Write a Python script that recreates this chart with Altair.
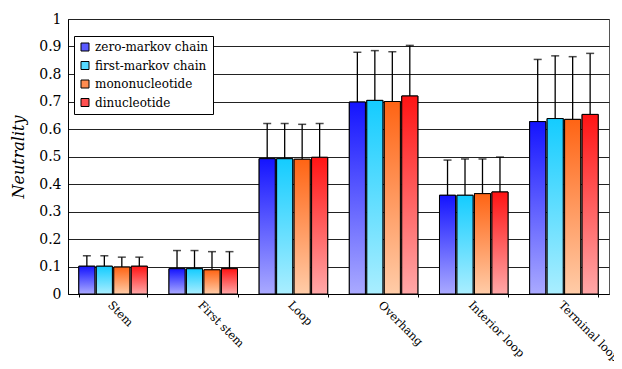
import altair as alt
import pandas as pd

categories = ["Stem", "First stem", "Loop", "Overhang", "Interior loop", "Terminal loop"]
series = ["zero-markov chain", "first-markov chain", "mononucleotide", "dinucleotide"]

zero_markov = [0.101, 0.092, 0.492, 0.698, 0.359, 0.627]
first_markov = [0.101, 0.092, 0.492, 0.704, 0.359, 0.638]
mononucleotide = [0.098, 0.088, 0.490, 0.700, 0.365, 0.635]
dinucleotide = [0.101, 0.092, 0.497, 0.720, 0.371, 0.653]

zero_markov_err = [0.139, 0.158, 0.620, 0.879, 0.487, 0.853]
first_markov_err = [0.139, 0.158, 0.620, 0.885, 0.491, 0.866]
mononucleotide_err = [0.134, 0.154, 0.617, 0.881, 0.491, 0.863]
dinucleotide_err = [0.134, 0.154, 0.620, 0.904, 0.498, 0.875]

y_ticks = [0, 0.1, 0.2, 0.3, 0.4, 0.5, 0.6, 0.7, 0.8, 0.9, 1]

top_colors = ["#1414ff", "#14ccff", "#ff6414", "#ff1414"]
bottom_colors = ["#aaaaff", "#aaeeff", "#ffcca8", "#ffa8a8"]
mid_colors = ["#5a5aff", "#55d8ff", "#ff8c50", "#ff5050"]

values = [zero_markov, first_markov, mononucleotide, dinucleotide]
errs = [zero_markov_err, first_markov_err, mononucleotide_err, dinucleotide_err]

rows = []
for s, vals, es in zip(series, values, errs):
    for c, v, e in zip(categories, vals, es):
        rows.append({"category": c, "series": s, "value": v, "err": e})
df = pd.DataFrame(rows)

font = "DejaVu Serif"

x_enc = alt.X("category:N", scale=alt.Scale(domain=categories, paddingInner=0.24, paddingOuter=0.12),
              axis=alt.Axis(title=None, labelAngle=45, labelFont=font, labelFontSize=11.5,
                            labelColor="black", domainColor="black", tickBand="extent",
                            tickSize=3, tickColor="black", labelPadding=2, grid=False,
                            labelOverlap=False))
xo_enc = alt.XOffset("series:N", scale=alt.Scale(domain=series, paddingInner=0.08))
y_scale = alt.Scale(domain=[0, 1], nice=False)
y_axis = alt.Axis(title="Neutrality", titleFont=font, titleFontSize=16,
                  titleFontStyle="italic", titleFontWeight="normal", titleColor="black",
                  titlePadding=12,
                  values=y_ticks, format=".1~f", labelOverlap=False,
                  labelFont=font, labelFontSize=14, labelColor="black",
                  tickSize=0, labelPadding=7, domainColor="black",
                  grid=True, gridColor="#222222", gridWidth=1)

def yv(field):
    return alt.Y(field, scale=y_scale, axis=y_axis)

base = alt.Chart(df)

legend_layer = base.mark_bar(stroke="black", strokeWidth=1).encode(
    x=x_enc, xOffset=xo_enc, y=yv("value:Q"),
    fill=alt.Fill("series:N", scale=alt.Scale(domain=series, range=mid_colors),
                  legend=alt.Legend(title=None, orient="none", legendX=6, legendY=17,
                                    symbolType="square", symbolSize=64,
                                    symbolStrokeColor="black", symbolStrokeWidth=1,
                                    labelFont=font, labelFontSize=12, labelColor="black",
                                    strokeColor="black", fillColor="white", padding=5,
                                    rowPadding=6.5, labelOffset=4)),
)

rules = base.mark_rule(color="black", strokeWidth=1.3).encode(
    x=x_enc, xOffset=xo_enc, y=yv("value:Q"), y2=alt.Y2("err:Q")
)
caps = base.mark_tick(color="black", thickness=1.5, size=8, orient="horizontal").encode(
    x=x_enc, xOffset=xo_enc, y=yv("err:Q")
)

grad_layers = []
for s, tc, bc in zip(series, top_colors, bottom_colors):
    g = alt.Gradient(gradient="linear",
                     stops=[alt.GradientStop(color=tc, offset=0), alt.GradientStop(color=bc, offset=1)],
                     x1=0, x2=0, y1=0, y2=1)
    grad_layers.append(
        base.transform_filter(alt.datum.series == s).mark_bar(fill=g, stroke="black", strokeWidth=1).encode(
            x=x_enc, xOffset=xo_enc, y=yv("value:Q")
        )
    )

chart = alt.layer(rules, caps, legend_layer, *grad_layers).properties(
    width=541, height=275,
    autosize=alt.AutoSizeParams(type="none"),
    padding={"left": 60, "top": 11, "right": 5, "bottom": 67},
).configure(background="white", font=font).configure_view(stroke="#555555", strokeWidth=1)

chart.save("out.html", embed_options={"renderer": "svg", "actions": False})
